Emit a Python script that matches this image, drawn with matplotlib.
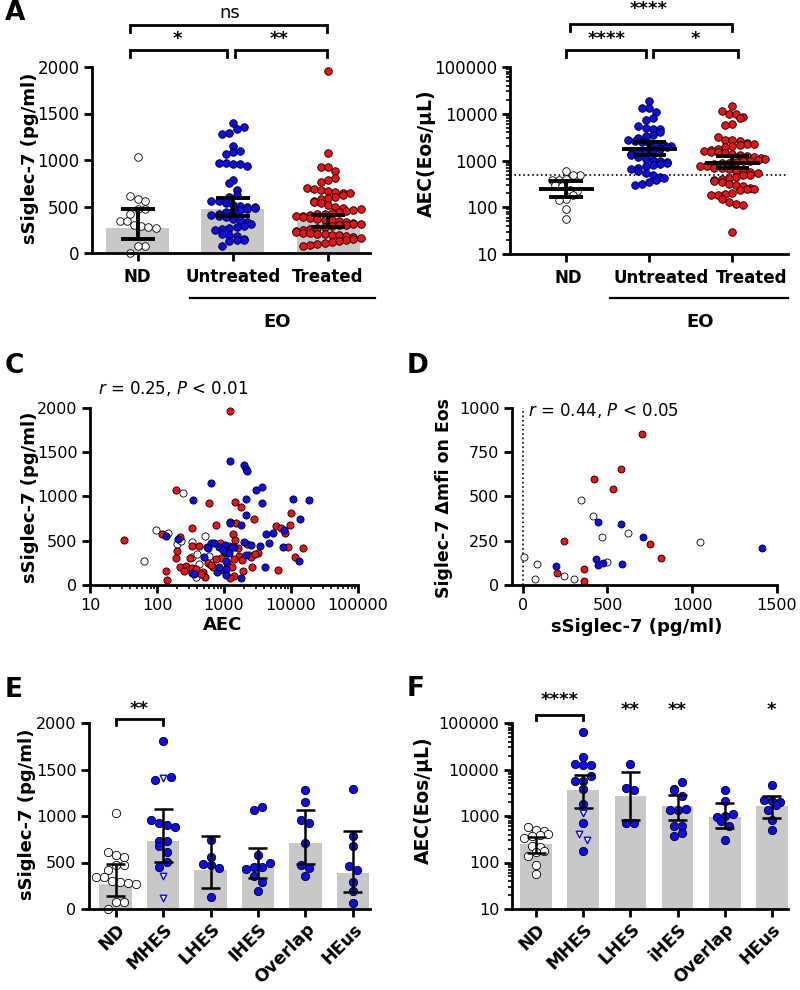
import numpy as np
import matplotlib
matplotlib.use('Agg')
import matplotlib.pyplot as plt
import matplotlib.transforms as mtransforms
from matplotlib.ticker import FixedLocator, LogLocator, NullFormatter

plt.rcParams['font.family'] = 'DejaVu Sans'
plt.rcParams['axes.linewidth'] = 2.0

BLUE = '#0b0bf5'
RED = '#f01212'
GREY = '#c8c8c8'

######################## data ########################

groups_a = ['ND', 'Untreated', 'Treated']

# sSiglec-7 (pg/ml)
nd_sig = [1035, 615, 580, 560, 470, 470, 420, 345, 340, 300, 285, 275, 270, 80, 70, 5]
untr_sig = [1400, 1350, 1330, 1290, 1280, 1150, 1100, 1090, 1060, 970, 970, 960, 940, 960,
            790, 750, 680, 620, 600, 560, 560, 540, 520, 510, 500, 490, 480, 470, 460, 450,
            440, 420, 410, 400, 390, 370, 350, 330, 310, 290, 280, 270, 260, 250, 200, 190,
            180, 150, 140, 140, 130, 70]
treat_sig = [1960, 1070, 930, 920, 880, 810, 790, 760, 700, 690, 680, 670, 660, 650, 640, 620,
             600, 590, 580, 560, 550, 540, 520, 500, 480, 470, 460, 450, 440, 430, 420, 420,
             410, 400, 400, 390, 380, 370, 360, 350, 340, 330, 320, 310, 310, 300, 300, 290,
             280, 270, 260, 250, 240, 230, 220, 210, 200, 200, 190, 190, 180, 170, 160, 150,
             140, 130, 120, 110, 100, 90, 80]
sig_med = [265, 477, 340]
sig_q1 = [150, 401, 280]
sig_q3 = [477, 588, 412]

# AEC (Eos/uL)
nd_aec = [590, 500, 480, 400, 390, 380, 300, 280, 230, 220, 186, 150, 140, 90, 57]
untr_aec = [18400, 13300, 13600, 10700, 8100, 7400, 5400, 4700, 4900, 4700, 4000, 3500, 3300,
            3000, 2800, 2600, 2500, 2400, 2200, 2100, 2000, 1900, 1800, 1700, 1600, 1500, 1400,
            1300, 1200, 1100, 1050, 1000, 950, 900, 850, 800, 750, 700, 650, 600, 550, 500,
            450, 420, 380, 350, 320, 300]
treat_aec = [14800, 11700, 10000, 9900, 8500, 8000, 6000, 5800, 3200, 2800, 2700, 2600, 2400,
             2300, 2200, 2100, 2000, 1900, 1800, 1700, 1600, 1550, 1500, 1450, 1400, 1300, 1250,
             1200, 1150, 1100, 1050, 1000, 980, 950, 900, 880, 850, 800, 780, 750, 700, 680,
             650, 600, 580, 560, 550, 500, 480, 450, 420, 400, 380, 360, 340, 320, 300, 280,
             260, 250, 240, 230, 200, 190, 180, 180, 150, 130, 120, 110, 30]
aec_mean = [245, 1790, 900]
aec_lo = [166, 1330, 690]
aec_hi = [358, 2450, 1230]

# panel C: AEC vs sSiglec-7
c_nd_aec = [64, 96, 148, 242, 200, 335, 516, 330, 390, 420, 385, 590, 230]
c_nd_sig = [275, 623, 585, 1038, 464, 490, 555, 320, 350, 240, 90, 330, 500]
c_untr_aec = [650, 341, 134, 204, 330, 557, 635, 710, 840, 500, 780, 1250, 2000, 2100, 2200,
              3000, 3650, 2100, 3650, 10700, 18400, 13500, 2150, 1800, 7900, 4240, 5400, 4700,
              3500, 7500, 13000, 4100, 2500, 2000, 1400, 1050, 1100, 1060, 1060, 2100, 1800,
              1250, 850, 1070, 580, 1300, 1200, 360, 960]
c_untr_sig = [1158, 962, 558, 517, 136, 434, 472, 480, 434, 313, 150, 1404, 1355, 1310, 1287,
              1068, 1106, 973, 932, 970, 959, 747, 793, 676, 623, 574, 585, 472, 445, 434, 268,
              207, 450, 484, 434, 448, 362, 268, 181, 340, 76, 700, 207, 113, 415, 430, 360,
              120, 390]
c_treat_aec = [32, 189, 597, 334, 760, 120, 224, 200, 189, 135, 224, 270, 300, 334, 490, 515,
               310, 580, 680, 800, 140, 1240, 1470, 1780, 2760, 1500, 1210, 5880, 7200, 8250,
               9800, 1340, 9100, 15000, 11300, 6300, 2650, 3200, 2400, 2500, 1650, 1400, 1850,
               1900, 1420, 1230, 1480, 10000, 1200, 1000, 900, 1100, 1300, 750, 420, 650, 870,
               1600, 2200, 2900, 380, 460, 1050, 330, 250]
c_treat_sig = [509, 1075, 925, 649, 675, 577, 540, 385, 309, 162, 200, 210, 180, 190, 150, 94,
               300, 250, 200, 160, 57, 1962, 936, 880, 751, 698, 710, 668, 642, 585, 680, 574,
               434, 419, 313, 173, 207, 358, 340, 320, 330, 290, 280, 158, 102, 76, 510, 812,
               440, 380, 300, 250, 200, 290, 440, 230, 480, 420, 460, 350, 180, 120, 160, 440,
               160]

# panel D: sSiglec-7 vs Siglec-7 dmfi on Eos
d_nd_x = [8, 83, 73, 246, 305, 346, 415, 467, 500, 620, 1043]
d_nd_y = [160, 119, 34, 51, 36, 481, 392, 270, 130, 296, 245]
d_untr_x = [197, 447, 433, 447, 476, 577, 588, 712, 1412]
d_untr_y = [107, 357, 149, 113, 123, 345, 117, 274, 208]
d_treat_x = [200, 242, 362, 364, 421, 534, 577, 703, 752, 815]
d_treat_y = [70, 251, 90, 21, 600, 543, 658, 855, 232, 155]

# panels E / F: HES subtypes
e_labels = ['ND', 'MHES', 'LHES', 'IHES', 'Overlap', 'HEus']
f_labels = ['ND', 'MHES', 'LHES', 'iHES', 'Overlap', 'HEus']

e_mhes = [1807, 1420, 1385, 955, 927, 898, 884, 734, 734, 676, 615, 508, 447]
e_mhes_tri = [1406, 358, 122]
e_lhes = [741, 562, 483, 472, 437, 132]
e_ihes = [1100, 1063, 580, 490, 455, 450, 426, 354, 293, 197]
e_overlap = [1277, 1152, 955, 927, 705, 469, 444, 354]
e_heus = [1295, 787, 676, 465, 419, 286, 193, 68]
e_med = [265, 733, 419, 462, 712, 386]
e_lo = [143, 501, 222, 329, 479, 179]
e_hi = [480, 1073, 787, 651, 1063, 834]

f_nd = [580, 500, 480, 420, 390, 380, 330, 230, 220, 180, 165, 140, 88, 58]
f_mhes = [65000, 18400, 13300, 12800, 12200, 7200, 5800, 5800, 3860, 1840, 710, 178]
f_mhes_tri = [1160, 405, 301]
f_lhes = [13200, 4050, 3560, 710, 710]
f_ihes = [5350, 3860, 3560, 2640, 1430, 1320, 1320, 600, 600, 440, 366]
f_overlap = [3560, 2060, 1120, 1000, 950, 800, 600, 310]
f_heus = [4700, 2170, 2100, 2050, 1700, 1320, 835, 510]
f_med = [246, 3550, 2680, 1610, 950, 1610]
f_lo = [161, 1460, 835, 835, 550, 905]
f_hi = [356, 7800, 8630, 2800, 1900, 2650]


######################## helpers ########################

W, H = 800, 990
fig = plt.figure(figsize=(W / 100, H / 100), dpi=100)


def add_axes(l, r, t, b):
    # pixel box measured from the top-left corner
    return fig.add_axes([l / W, 1 - b / H, (r - l) / W, (b - t) / H])


def ftext(x, y, s, **kw):
    fig.text(x / W, 1 - y / H, s, **kw)


def style(ax, fs):
    ax.spines['top'].set_visible(False)
    ax.spines['right'].set_visible(False)
    ax.tick_params(which='major', direction='out', width=2, length=6, labelsize=fs, pad=3)
    ax.tick_params(which='minor', direction='out', width=1.2, length=3)


def log_y(ax):
    ax.set_yscale('log')
    ax.set_ylim(10, 100000)
    ax.yaxis.set_major_locator(FixedLocator([10, 100, 1000, 10000, 100000]))
    ax.set_yticklabels(['10', '100', '1000', '10000', '100000'])
    ax.yaxis.set_minor_locator(LogLocator(base=10, subs=np.arange(2, 10)))
    ax.yaxis.set_minor_formatter(NullFormatter())


def swarm(ax, xc, vals, d, row_h, step):
    # Prism-like scatter: points within one pixel row band are spread side by side
    vals = np.asarray(vals, float)
    pts = ax.transData.transform(np.column_stack([np.full(len(vals), xc), vals]))
    x0, ys = pts[0, 0], pts[:, 1]
    order = np.argsort(ys)
    rows, cur, start = [], [order[0]], ys[order[0]]
    for i in order[1:]:
        if ys[i] - start < row_h:
            cur.append(i)
        else:
            rows.append(cur)
            cur, start = [i], ys[i]
    rows.append(cur)
    offs = np.zeros(len(vals))
    for k, r in enumerate(rows):
        n = len(r)
        pos = (np.arange(n) - (n - 1) / 2) * step
        if k % 2:
            pos = pos[::-1]
        for j, i in enumerate(r):
            offs[i] = pos[j]
    return ax.transData.inverted().transform(np.column_stack([x0 + offs, ys]))[:, 0]


def dots(ax, x, y, face, d, lw=0.6, z=2, marker='o', edge='black'):
    ax.scatter(x, y, s=(d * 0.72) ** 2, c=face, edgecolors=edge, linewidths=lw,
               marker=marker, zorder=z, clip_on=False)


def whisker(ax, i, lo, hi, cap, lw, mid=None, mid_hw=None):
    ax.plot([i, i], [lo, hi], color='k', lw=lw, zorder=4, solid_capstyle='butt')
    for v in (lo, hi):
        ax.plot([i - cap, i + cap], [v, v], color='k', lw=lw, zorder=4, solid_capstyle='butt')
    if mid is not None:
        ax.plot([i - mid_hw, i + mid_hw], [mid, mid], color='k', lw=lw, zorder=4,
                solid_capstyle='butt')


def bracket(ax, x1, x2, ytop, ybot, lw=2.0):
    tr = ax.get_xaxis_transform()
    ax.plot([x1, x1, x2, x2], [ybot, ytop, ytop, ybot], color='k', lw=lw, transform=tr,
            clip_on=False, solid_joinstyle='miter')


def star(ax, x, y, s, fs=13, weight='bold'):
    ax.text(x, y, s, transform=ax.get_xaxis_transform(), ha='center', va='center',
            fontsize=fs, fontweight=weight)


######################## A (left) ########################

ax = add_axes(92, 370, 67, 253)
style(ax, 12)
ax.set_xlim(-0.48, 2.44)
ax.set_ylim(0, 2000)
ax.set_yticks([0, 500, 1000, 1500, 2000])
ax.set_xticks(range(3))
ax.set_xticklabels(groups_a, fontsize=12, fontweight='bold')
ax.tick_params(axis='x', pad=5)
ax.bar(range(3), sig_med, width=0.66, color=GREY, zorder=1)
for i, (vals, col) in enumerate(zip([nd_sig, untr_sig, treat_sig], ['white', BLUE, RED])):
    dots(ax, swarm(ax, i, vals, 7.6, 7.0, 7.2), vals, col, 7.6)
    whisker(ax, i, sig_q1[i], sig_q3[i], 0.18, 2.8)
bracket(ax, -0.08, 1.99, 1.226, 1.19)
bracket(ax, -0.08, 0.94, 1.091, 1.055)
bracket(ax, 1.02, 1.99, 1.091, 1.055)
star(ax, 0.97, 1.29, 'ns', fs=13, weight='normal')
star(ax, 0.42, 1.15, '*')
star(ax, 1.49, 1.15, '**')
tr = ax.get_xaxis_transform()
ax.plot([0.55, 2.49], [-0.242, -0.242], color='k', lw=1.6, transform=tr, clip_on=False)
ax.text(1.46, -0.371, 'EO', transform=tr, ha='center', va='center', fontsize=13,
        fontweight='bold')
ftext(30, 158, 'sSiglec-7 (pg/ml)', rotation=90, ha='center', va='center', fontsize=13,
      fontweight='bold')

######################## A (right) ########################

ax = add_axes(510, 788, 67, 254)
style(ax, 12)
ax.set_xlim(-0.675, 2.67)
log_y(ax)
ax.set_xticks(range(3))
ax.set_xticklabels(groups_a, fontsize=12, fontweight='bold')
ax.tick_params(axis='x', pad=5)
# category names sit a little right of their columns in the original
for lab, dx in zip(ax.get_xticklabels(), [2, 12, 19]):
    lab.set_transform(lab.get_transform()
                      + mtransforms.ScaledTranslation(dx / 100, 0, fig.dpi_scale_trans))
ax.axhline(500, ls=':', color='k', lw=1.2, zorder=0.5)
for i, (vals, col) in enumerate(zip([nd_aec, untr_aec, treat_aec], ['white', BLUE, RED])):
    dots(ax, swarm(ax, i, vals, 7.6, 7.0, 7.2), vals, col, 7.6)
    whisker(ax, i, aec_lo[i], aec_hi[i], 0.2, 2.8, mid=aec_mean[i], mid_hw=0.33)
bracket(ax, 0.05, 2.0, 1.23, 1.193)
bracket(ax, 0.0, 0.96, 1.091, 1.053)
bracket(ax, 1.04, 2.07, 1.091, 1.053)
star(ax, 0.99, 1.31, '****')
star(ax, 0.49, 1.15, '****')
star(ax, 1.55, 1.15, '*')
tr = ax.get_xaxis_transform()
ax.plot([0.53, 2.67], [-0.235, -0.235], color='k', lw=1.6, transform=tr, clip_on=False)
ax.text(1.61, -0.364, 'EO', transform=tr, ha='center', va='center', fontsize=13,
        fontweight='bold')
ftext(426, 153, 'AEC(Eos/\u00b5L)', rotation=90, ha='center', va='center', fontsize=13.5,
      fontweight='bold')

######################## C ########################

ax = add_axes(90, 358, 408, 585)
style(ax, 11.5)
ax.set_xscale('log')
ax.set_xlim(10, 100000)
ax.set_ylim(0, 2000)
ax.xaxis.set_major_locator(FixedLocator([10, 100, 1000, 10000, 100000]))
ax.set_xticklabels(['10', '100', '1000', '10000', '100000'])
ax.xaxis.set_minor_locator(LogLocator(base=10, subs=np.arange(2, 10)))
ax.xaxis.set_minor_formatter(NullFormatter())
ax.set_yticks([0, 500, 1000, 1500, 2000])
dots(ax, c_nd_aec, c_nd_sig, 'white', 7.2)
dots(ax, c_treat_aec, c_treat_sig, RED, 7.2)
dots(ax, c_untr_aec, c_untr_sig, BLUE, 7.2)
ftext(173, 389, r'$\it{r}$ = 0.25, $\it{P}$ < 0.01', ha='center', va='center', fontsize=12)
ftext(223, 625, 'AEC', ha='center', va='center', fontsize=13, fontweight='bold')
ftext(30, 497, 'sSiglec-7 (pg/ml)', rotation=90, ha='center', va='center', fontsize=13,
      fontweight='bold')

######################## D ########################

ax = add_axes(512, 777, 408, 585)
style(ax, 11.5)
ax.set_xlim(-63, 1500)
ax.set_ylim(0, 1000)
ax.set_xticks([0, 500, 1000, 1500])
ax.set_yticks([0, 250, 500, 750, 1000])
ax.axvline(0, ls=':', color='k', lw=1.2, zorder=0.5)
dots(ax, d_nd_x, d_nd_y, 'white', 7.0)
dots(ax, d_treat_x, d_treat_y, RED, 7.0)
dots(ax, d_untr_x, d_untr_y, BLUE, 7.0)
ftext(528, 410, r'$\it{r}$ = 0.44, $\it{P}$ < 0.05', ha='left', va='center', fontsize=12)
ftext(637, 627, 'sSiglec-7 (pg/ml)', ha='center', va='center', fontsize=13, fontweight='bold')
ftext(444, 498, 'Siglec-7 \u0394mfi on Eos', rotation=90, ha='center', va='center',
      fontsize=12.5, fontweight='bold')

######################## E ########################

ax = add_axes(89, 370, 723, 909)
style(ax, 11.5)
ax.set_xlim(-0.56, 5.36)
ax.set_ylim(0, 2000)
ax.set_yticks([0, 500, 1000, 1500, 2000])
ax.set_xticks(range(6))
ax.set_xticklabels(e_labels, rotation=45, ha='right', rotation_mode='anchor', fontsize=12.5,
                   fontweight='bold')
ax.tick_params(axis='x', pad=2)
ax.bar(range(6), e_med, width=0.68, color=GREY, zorder=1)
e_groups = [nd_sig, e_mhes + e_mhes_tri, e_lhes, e_ihes, e_overlap, e_heus]
for i, vals in enumerate(e_groups):
    xs = swarm(ax, i, vals, 8.3, 7.5, 8.0)
    if i == 0:
        dots(ax, xs, vals, 'white', 8.3)
    elif i == 1:
        n = len(e_mhes)
        dots(ax, xs[:n], vals[:n], BLUE, 8.3)
        dots(ax, xs[n:], vals[n:], 'white', 6.5, lw=1.0, marker='v', edge=BLUE)
    else:
        dots(ax, xs, vals, BLUE, 8.3)
    whisker(ax, i, e_lo[i], e_hi[i], 0.2, 1.8)
bracket(ax, 0, 1, 1.02, 0.988)
star(ax, 0.5, 1.075, '**')
ftext(27, 814, 'sSiglec-7 (pg/ml)', rotation=90, ha='center', va='center', fontsize=13,
      fontweight='bold')

######################## F ########################

ax = add_axes(512, 788, 723, 909)
style(ax, 11.5)
ax.set_xlim(-0.52, 5.35)
log_y(ax)
ax.set_xticks(range(6))
ax.set_xticklabels(f_labels, rotation=45, ha='right', rotation_mode='anchor', fontsize=12.5,
                   fontweight='bold')
ax.tick_params(axis='x', pad=2)
ax.bar(range(6), f_med, width=0.68, color=GREY, zorder=1, bottom=0)
f_groups = [f_nd, f_mhes + f_mhes_tri, f_lhes, f_ihes, f_overlap, f_heus]
for i, vals in enumerate(f_groups):
    xs = swarm(ax, i, vals, 8.3, 7.5, 8.0)
    if i == 0:
        dots(ax, xs, vals, 'white', 8.3)
    elif i == 1:
        n = len(f_mhes)
        dots(ax, xs[:n], vals[:n], BLUE, 8.3)
        dots(ax, xs[n:], vals[n:], 'white', 6.5, lw=1.0, marker='v', edge=BLUE)
    else:
        dots(ax, xs, vals, BLUE, 8.3)
    whisker(ax, i, f_lo[i], f_hi[i], 0.2, 1.8)
bracket(ax, 0, 1, 1.041, 1.014)
star(ax, 0.5, 1.125, '****')
star(ax, 2, 1.07, '**')
star(ax, 3, 1.07, '**')
star(ax, 5, 1.07, '*')
ftext(423, 800, 'AEC(Eos/\u00b5L)', rotation=90, ha='center', va='center', fontsize=13.5,
      fontweight='bold')

######################## panel letters ########################

for s, x, y in [('A', 5, 13), ('C', 5, 366), ('D', 407, 366), ('E', 5, 690), ('F', 407, 689)]:
    ftext(x, y, s, ha='left', va='center', fontsize=19, fontweight='bold')

fig.savefig('out.png', dpi=100)
